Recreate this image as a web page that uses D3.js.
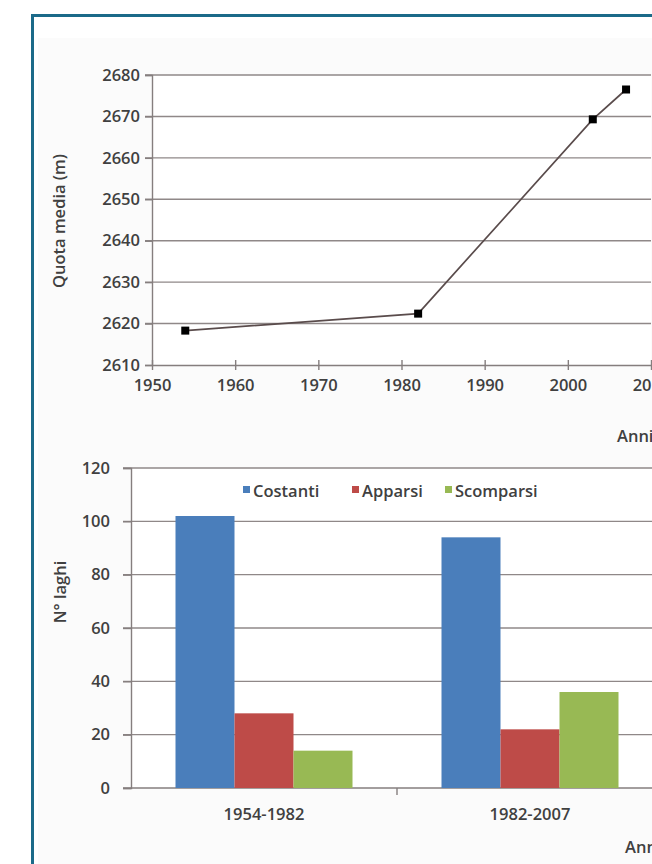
<!DOCTYPE html>
<html><head><meta charset="utf-8">
<script src="https://cdn.jsdelivr.net/npm/d3@7"></script>
<style>
html,body{margin:0;padding:0;background:#fff;}
svg{display:block;}
text{font-family:"Open Sans",sans-serif;fill:#404040;font-weight:600;}
</style></head>
<body><svg id="c" width="652" height="864"></svg>
<script>
// ---- Data: line chart ----
const years = [1954, 1982, 2003, 2007];
const quota = [2618.3, 2622.4, 2669.3, 2676.5];
const lineXTicks = [1950, 1960, 1970, 1980, 1990, 2000, 2010];
const lineYTicks = [2610, 2620, 2630, 2640, 2650, 2660, 2670, 2680];
// ---- Data: bar chart ----
const periods = ["1954-1982", "1982-2007"];
const seriesNames = ["Costanti", "Apparsi", "Scomparsi"];
const costanti = [102, 94];
const apparsi = [28, 22];
const scomparsi = [14, 36];
const barYTicks = [0, 20, 40, 60, 80, 100, 120];
const seriesColors = ["#4a7ebb", "#be4b48", "#98b954"];

const svg = d3.select("#c");
const gridCol = "#8f8888", axisCol = "#857e7e";
const FS = 16.5;

// frame
svg.append("rect").attr("x", 38).attr("y", 38).attr("width", 700).attr("height", 900).attr("fill", "#fbfbfb");
svg.append("rect").attr("x", 32.5).attr("y", 15.5).attr("width", 700).attr("height", 900)
  .attr("fill", "none").attr("stroke", "#1b6a89").attr("stroke-width", 3);

// ================= Line chart =================
const lx = d3.scaleLinear().domain([1950, 2010]).range([152, 651]);
const ly = d3.scaleLinear().domain([2610, 2680]).range([365, 75]);
const lg = svg.append("g");
lg.append("rect").attr("x", lx(1950)).attr("y", ly(2680)).attr("width", lx(2010) - lx(1950)).attr("height", ly(2610) - ly(2680)).attr("fill", "#fff");
lg.selectAll(".lgrid").data(lineYTicks.filter(t => t > 2610)).join("line")
  .attr("x1", lx(1950) - 7).attr("x2", lx(2010)).attr("y1", d => ly(d)).attr("y2", d => ly(d))
  .attr("stroke", gridCol).attr("stroke-width", 1.4);
const lyAxis = lg.append("g").attr("transform", `translate(${lx(1950)},0)`)
  .call(d3.axisLeft(ly).tickValues(lineYTicks).tickFormat(d3.format("d")).tickSize(7).tickPadding(5));
const lxAxis = lg.append("g").attr("transform", `translate(0,${ly(2610)})`)
  .call(d3.axisBottom(lx).tickValues(lineXTicks).tickFormat(d3.format("d")).tickSizeInner(5).tickSizeOuter(0).tickPadding(9));
[lyAxis, lxAxis].forEach(a => {
  a.selectAll("path,line").attr("stroke", axisCol).attr("stroke-width", 1.4);
  a.selectAll("text").attr("font-size", FS).attr("fill", "#404040").attr("font-family", "Open Sans");
});
lxAxis.selectAll(".tick line").attr("y1", -5);
const pts = years.map((y, i) => [y, quota[i]]);
lg.append("path").datum(pts).attr("fill", "none").attr("stroke", "#5a4c4c").attr("stroke-width", 1.7)
  .attr("d", d3.line().x(d => lx(d[0])).y(d => ly(d[1])));
lg.selectAll(".mk").data(pts).join("rect")
  .attr("x", d => lx(d[0]) - 4).attr("y", d => ly(d[1]) - 4).attr("width", 8).attr("height", 8).attr("fill", "#000");
lg.append("text").attr("transform", "translate(65,221) rotate(-90)").attr("text-anchor", "middle")
  .attr("font-size", FS).text("Quota media (m)");
lg.append("text").attr("x", 617).attr("y", 442).attr("font-size", FS).text("Anni");

// ================= Bar chart =================
const bx0 = d3.scaleBand().domain(periods).range([131, 663]);
const bx1 = d3.scaleBand().domain(seriesNames).range([44.5, bx0.bandwidth() - 44.5]);
const by = d3.scaleLinear().domain([0, 120]).range([788, 468]);
const bg = svg.append("g");
bg.append("rect").attr("x", 131).attr("y", by(120)).attr("width", 540).attr("height", by(0) - by(120)).attr("fill", "#fff");
bg.selectAll(".bgrid").data(barYTicks.filter(t => t > 0)).join("line")
  .attr("x1", 123).attr("x2", 652).attr("y1", d => by(d)).attr("y2", d => by(d))
  .attr("stroke", gridCol).attr("stroke-width", 1.4);
const byAxis = bg.append("g").attr("transform", "translate(131,0)")
  .call(d3.axisLeft(by).tickValues(barYTicks).tickSize(8).tickPadding(13));
const bxAxis = bg.append("g").attr("transform", `translate(0,${by(0)})`)
  .call(d3.axisBottom(bx0).tickSize(0).tickPadding(20));
[byAxis, bxAxis].forEach(a => {
  a.selectAll("path,line").attr("stroke", axisCol).attr("stroke-width", 1.4);
  a.selectAll("text").attr("font-size", FS).attr("fill", "#404040").attr("font-family", "Open Sans");
});
bxAxis.select(".domain").attr("d", "M123,0H663");
bg.selectAll(".btick").data(periods.slice(1)).join("line")
  .attr("x1", d => bx0(d)).attr("x2", d => bx0(d)).attr("y1", by(0)).attr("y2", by(0) + 7)
  .attr("stroke", axisCol).attr("stroke-width", 1.4);

const seriesVals = [costanti, apparsi, scomparsi];
const barData = [];
periods.forEach((p, i) => seriesNames.forEach((s, j) => barData.push({ p, s, j, v: seriesVals[j][i] })));
bg.selectAll(".bar").data(barData).join("rect")
  .attr("x", d => bx0(d.p) + bx1(d.s)).attr("width", bx1.bandwidth())
  .attr("y", d => by(d.v)).attr("height", d => by(0) - by(d.v))
  .attr("fill", d => seriesColors[d.j]);

const legX = [243, 352, 445];
const leg = bg.selectAll(".leg").data(seriesNames).join("g")
  .attr("transform", (d, i) => `translate(${legX[i]},486)`);
leg.append("rect").attr("width", 7).attr("height", 7).attr("fill", (d, i) => seriesColors[i]);
leg.append("text").attr("x", 10).attr("y", 11).attr("font-size", FS).text(d => d);

bg.append("text").attr("transform", "translate(66,592) rotate(-90)").attr("text-anchor", "middle")
  .attr("font-size", FS).text("N° laghi");
bg.append("text").attr("x", 625).attr("y", 853).attr("font-size", FS).text("Anni");
</script></body></html>
